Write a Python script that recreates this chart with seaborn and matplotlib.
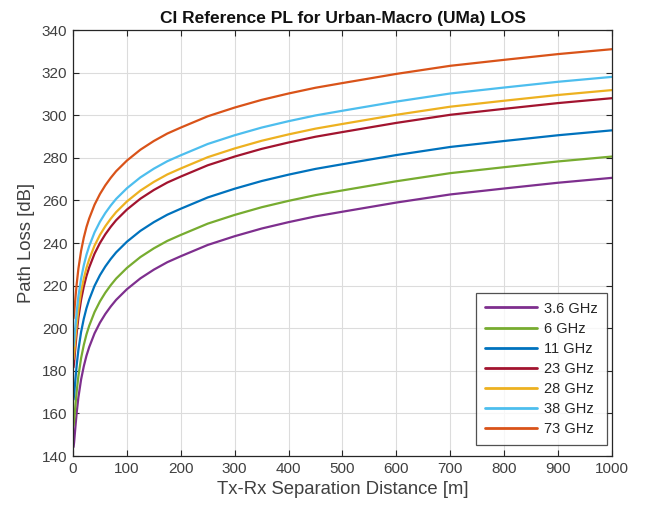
import matplotlib
matplotlib.use("Agg")
import matplotlib.pyplot as plt
import seaborn as sns
import pandas as pd

distance = [1, 2, 3, 4, 5, 7, 10, 15, 20, 25, 30, 40, 50, 60, 70, 80, 100, 125, 150, 175, 200,
            250, 300, 350, 400, 450, 500, 600, 700, 800, 900, 1000]

pl_3_6 = [144.2, 146.3, 149.2, 152.2, 155.2, 160.7, 167.5, 175.9, 182.1, 187.1, 191.1, 197.6, 202.6, 206.7, 210.2, 213.3,
          218.3, 223.4, 227.5, 231.0, 233.8, 239.1, 243.2, 246.8, 249.8, 252.5, 254.7, 259.0, 262.8, 265.6, 268.3, 270.6]
pl_6 = [154.2, 156.3, 159.2, 162.2, 165.2, 170.7, 177.5, 185.9, 192.1, 197.1, 201.1, 207.6, 212.6, 216.7, 220.2, 223.3,
        228.3, 233.4, 237.5, 241.0, 243.8, 249.1, 253.2, 256.8, 259.8, 262.5, 264.7, 269.0, 272.8, 275.6, 278.3, 280.6]
pl_11 = [166.5, 168.6, 171.5, 174.5, 177.5, 183.0, 189.8, 198.2, 204.4, 209.4, 213.4, 219.9, 224.9, 229.0, 232.5, 235.6,
         240.6, 245.7, 249.8, 253.3, 256.1, 261.4, 265.5, 269.1, 272.1, 274.8, 277.0, 281.3, 285.1, 287.9, 290.6, 292.9]
pl_23 = [181.6, 183.7, 186.6, 189.6, 192.6, 198.1, 204.9, 213.3, 219.5, 224.5, 228.5, 235.0, 240.0, 244.1, 247.6, 250.7,
         255.7, 260.8, 264.9, 268.4, 271.2, 276.5, 280.6, 284.2, 287.2, 289.9, 292.1, 296.4, 300.2, 303.0, 305.7, 308.0]
pl_28 = [185.4, 187.5, 190.4, 193.4, 196.4, 201.9, 208.7, 217.1, 223.3, 228.3, 232.3, 238.8, 243.8, 247.9, 251.4, 254.5,
         259.5, 264.6, 268.7, 272.2, 275.0, 280.3, 284.4, 288.0, 291.0, 293.7, 295.9, 300.2, 304.0, 306.8, 309.5, 311.8]
pl_38 = [191.6, 193.7, 196.6, 199.6, 202.6, 208.1, 214.9, 223.3, 229.5, 234.5, 238.5, 245.0, 250.0, 254.1, 257.6, 260.7,
         265.7, 270.8, 274.9, 278.4, 281.2, 286.5, 290.6, 294.2, 297.2, 299.9, 302.1, 306.4, 310.2, 313.0, 315.7, 318.0]
pl_73 = [204.6, 206.7, 209.6, 212.6, 215.6, 221.1, 227.9, 236.3, 242.5, 247.5, 251.5, 258.0, 263.0, 267.1, 270.6, 273.7,
         278.7, 283.8, 287.9, 291.4, 294.2, 299.5, 303.6, 307.2, 310.2, 312.9, 315.1, 319.4, 323.2, 326.0, 328.7, 331.0]

labels = ["3.6 GHz", "6 GHz", "11 GHz", "23 GHz", "28 GHz", "38 GHz", "73 GHz"]
series = [pl_3_6, pl_6, pl_11, pl_23, pl_28, pl_38, pl_73]
colors = ["#7E2F8E", "#77AC30", "#0072BD", "#A2142F", "#EDB120", "#4DBEEE", "#D95319"]

x_ticks = [0, 100, 200, 300, 400, 500, 600, 700, 800, 900, 1000]
y_ticks = [140, 160, 180, 200, 220, 240, 260, 280, 300, 320, 340]

rows = []
for lab, vals in zip(labels, series):
    for d, v in zip(distance, vals):
        rows.append({"d": d, "pl": v, "freq": lab})
df = pd.DataFrame(rows)

sns.set_theme(style="white")
plt.rcParams["font.family"] = ["Liberation Sans", "DejaVu Sans"]

fig = plt.figure(figsize=(6.5, 5.14), dpi=100)
ax = fig.add_axes([0.1123, 0.1128, 0.8292, 0.8288])

sns.lineplot(data=df, x="d", y="pl", hue="freq", hue_order=labels,
             palette=dict(zip(labels, colors)), linewidth=1.6, ax=ax)

ax.set_xlim(0, 1000)
ax.set_ylim(140, 340)
ax.set_xticks(x_ticks)
ax.set_yticks(y_ticks)
ax.grid(True, color="#dcdcdc", linewidth=0.8)
ax.set_axisbelow(True)
for s in ax.spines.values():
    s.set_visible(True)
    s.set_color("#262626")
    s.set_linewidth(0.9)
ax.tick_params(direction="in", length=4, width=0.8, color="#262626",
               labelsize=11, labelcolor="#404040", top=True, right=True,
               bottom=True, left=True, pad=4)
ax.set_xlabel("Tx-Rx Separation Distance [m]", fontsize=13.3, color="#404040", labelpad=4)
ax.set_ylabel("Path Loss [dB]", fontsize=13.3, color="#404040", labelpad=5)
ax.set_title("CI Reference PL for Urban-Macro (UMa) LOS", fontsize=12.5,
             fontweight="bold", color="#111111", pad=5)

leg = ax.legend(loc="lower right", frameon=True, fontsize=10.5, handlelength=3.6,
                labelspacing=0.42, borderpad=0.6, handletextpad=0.5, borderaxespad=0.0,
                bbox_to_anchor=(0.9907, 0.0258), fancybox=False, title=None)
leg.get_frame().set_edgecolor("#262626")
leg.get_frame().set_linewidth(0.9)
for line in leg.get_lines():
    line.set_linewidth(2.0)

fig.savefig("out.png", dpi=100, facecolor="white")
